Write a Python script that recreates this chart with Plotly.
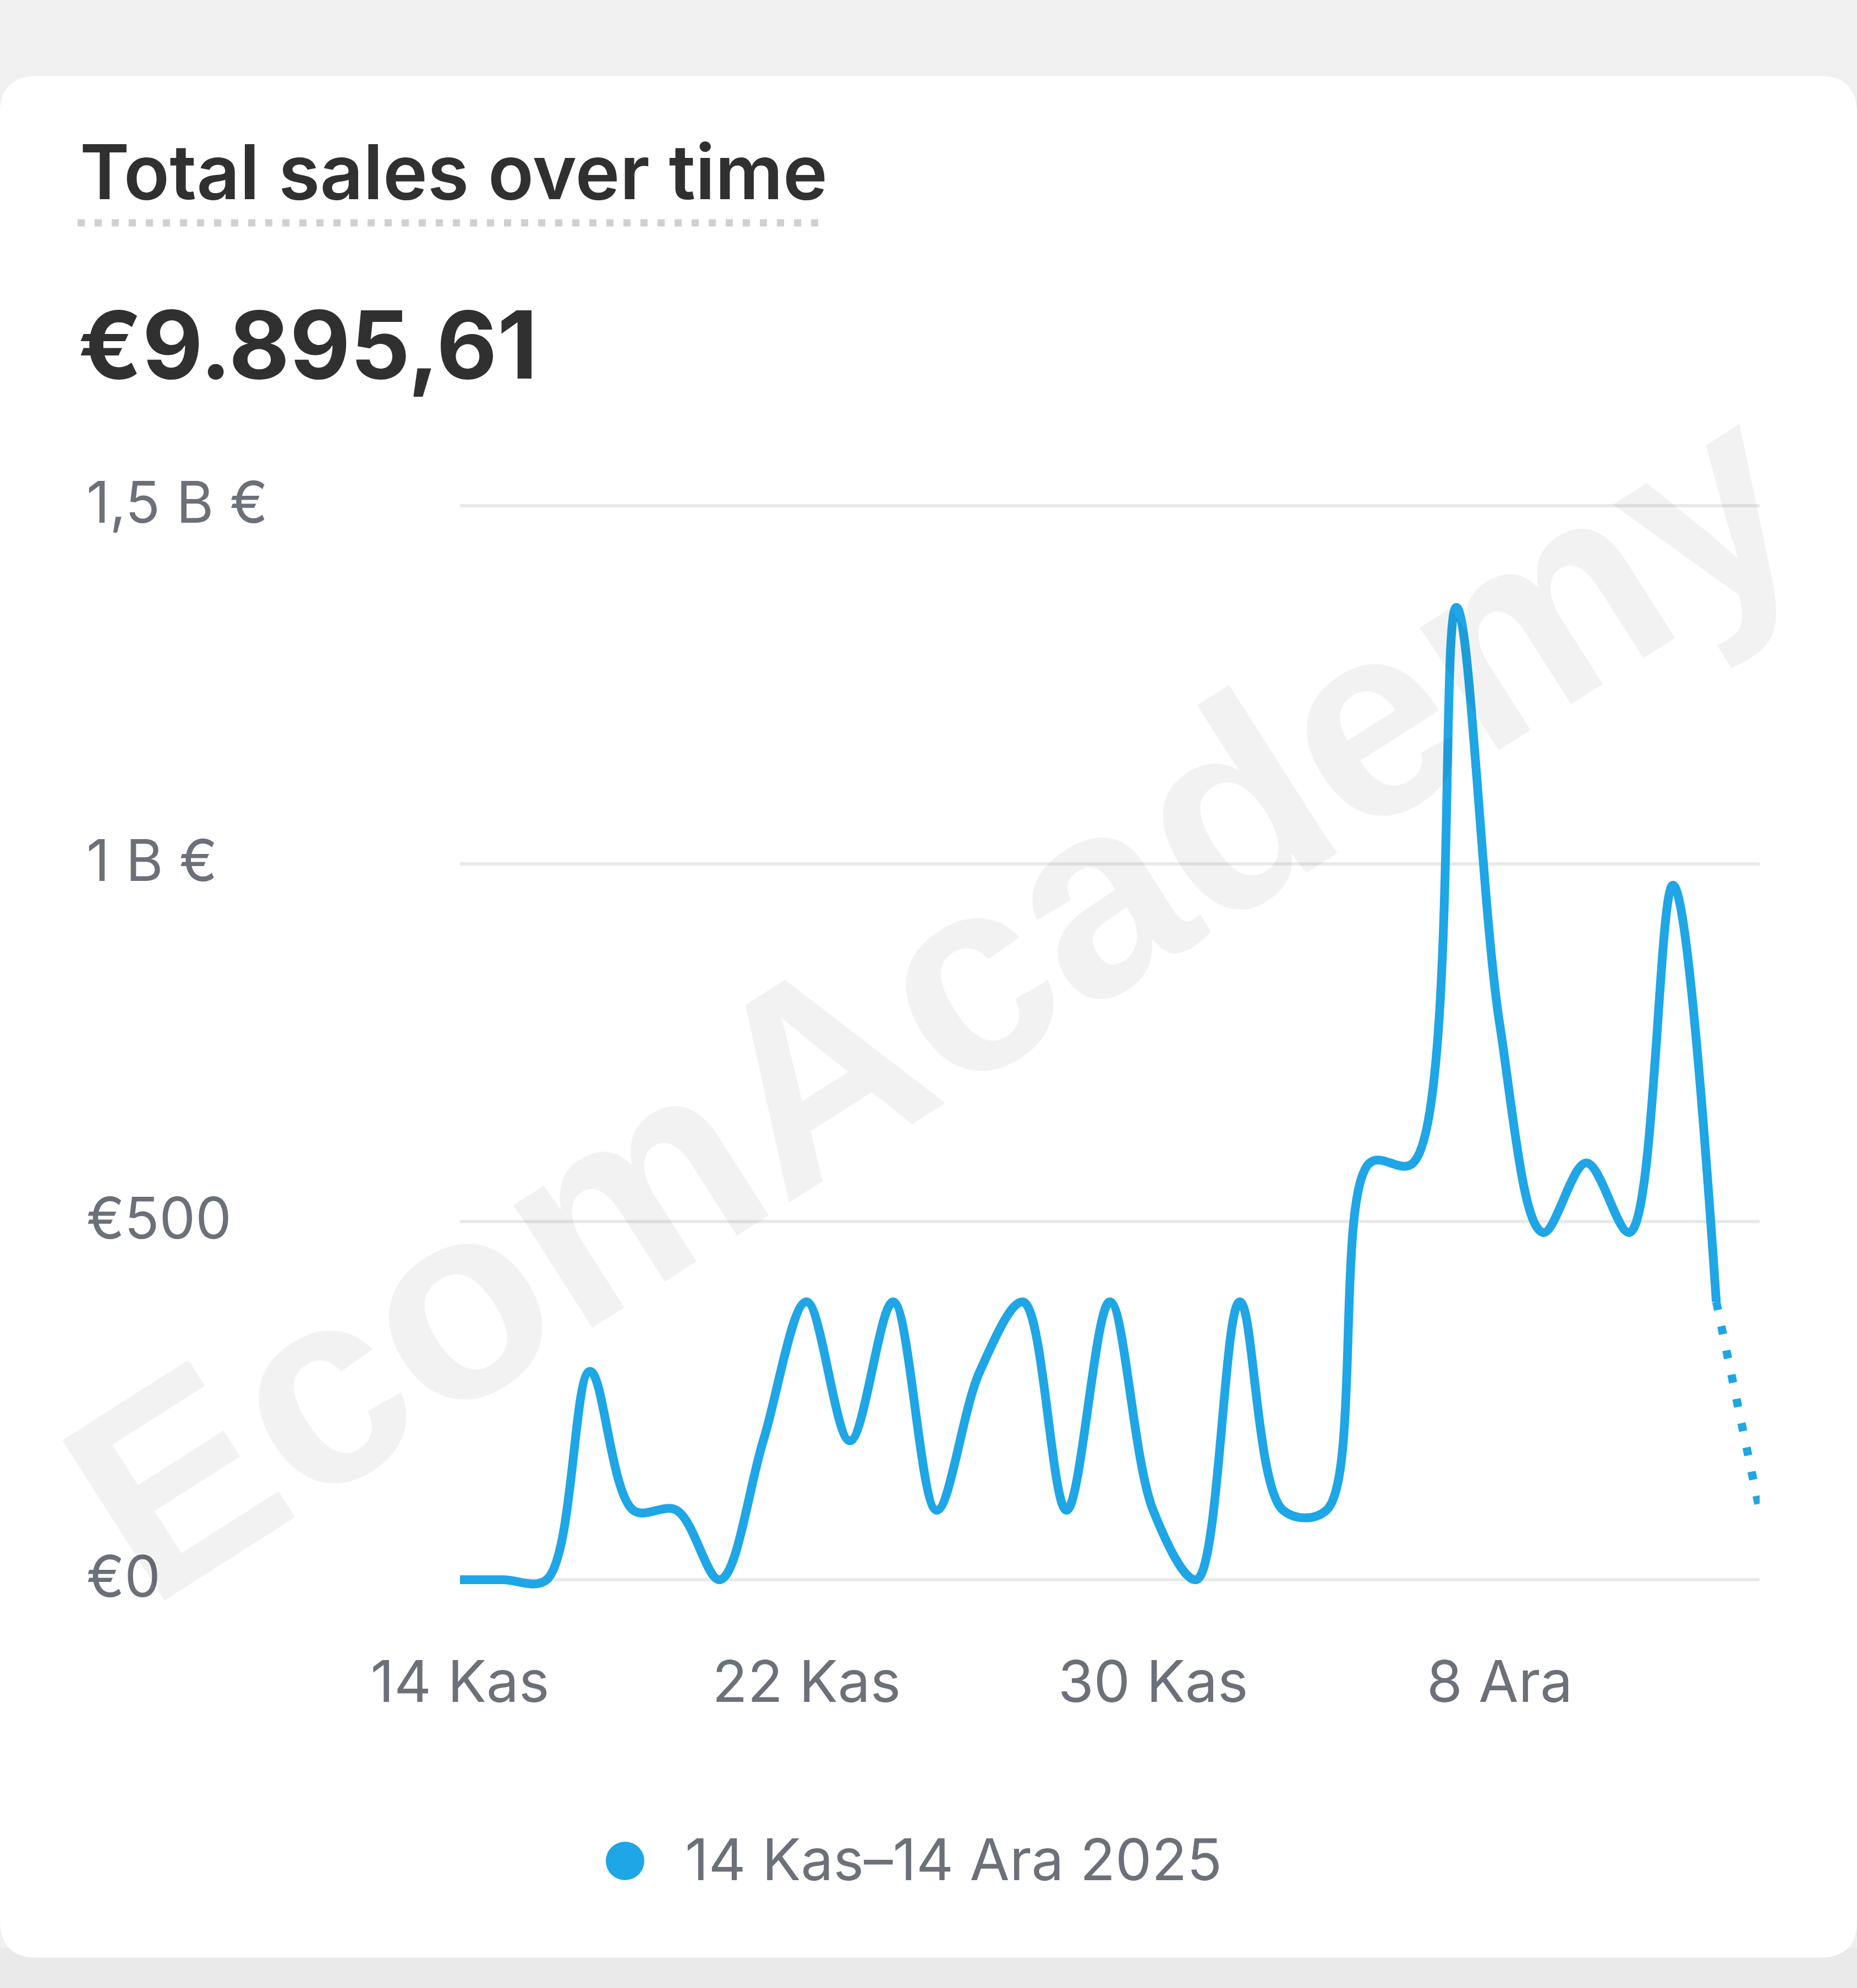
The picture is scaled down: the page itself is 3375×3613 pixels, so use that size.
import plotly.graph_objects as go
import pandas as pd

W, H = 3375, 3613

# ---- data ----
dates = [d.strftime("%Y-%m-%d") for d in pd.date_range("2025-11-14", "2025-12-14", freq="D")]
sales = [0, 0, 0, 291, 97, 97, 0, 194, 388, 194, 388, 97, 291, 388, 97, 388, 97, 0,
         388, 97, 97, 582, 582, 1358, 776, 485, 582, 485, 970, 388, 97]
x_tickvals = ["2025-11-14", "2025-11-22", "2025-11-30", "2025-12-08"]
x_ticktext = ["14 Kas", "22 Kas", "30 Kas", "8 Ara"]
y_tickvals = [0, 500, 1000, 1500]
y_ticktext = ["€0", "€500", "1 B €", "1,5 B €"]
title_text = "Total sales over time"
total_text = "€9.895,61"
legend_text = "14 Kas–14 Ara 2025"
watermark = "EcomAcademy"

BLUE = "#1ea6e6"
GREY_TXT = "#6b7079"
DARK = "#303030"


def px(x):
    return x / W


def py(y):
    return 1 - y / H


fig = go.Figure()

fig.add_trace(go.Scatter(
    x=dates[:-1], y=sales[:-1], mode="lines",
    line=dict(color=BLUE, width=16, shape="spline", smoothing=1.0),
    showlegend=False, hoverinfo="skip", cliponaxis=False,
))
fig.add_trace(go.Scatter(
    x=dates[-2:], y=sales[-2:], mode="lines",
    line=dict(color=BLUE, width=15, dash="15px,30px"),
    showlegend=False, hoverinfo="skip", cliponaxis=False,
))

# card shape
l, r, t, b = px(0), px(3375), py(138), py(3558)
rx, ry = 68 / W, 68 / H
card_path = (f"M {l+rx},{t} L {r-rx},{t} Q {r},{t} {r},{t-ry} L {r},{b+ry} "
             f"Q {r},{b} {r-rx},{b} L {l+rx},{b} Q {l},{b} {l},{b+ry} "
             f"L {l},{t-ry} Q {l},{t} {l+rx},{t} Z")

shapes = [
    dict(type="rect", xref="paper", yref="paper", x0=0, x1=1, y0=0, y1=py(3540),
         fillcolor="#eaeaea", line=dict(width=0), layer="below"),
    dict(type="path", xref="paper", yref="paper", path=card_path,
         fillcolor="#ffffff", line=dict(width=0), layer="below"),
    dict(type="line", xref="paper", yref="paper", x0=px(141), x1=px(1497),
         y0=py(405), y1=py(405), line=dict(color="#d0d0d0", width=13, dash="13px,18px")),
    dict(type="circle", xref="paper", yref="paper", x0=px(1101), x1=px(1171),
         y0=py(3417), y1=py(3347), fillcolor=BLUE, line=dict(width=0)),
]

annotations = [
    dict(text=title_text, xref="paper", yref="paper", x=px(143), y=py(312),
         xanchor="left", yanchor="middle", showarrow=False,
         font=dict(family="Inter", size=137, color=DARK, weight=600)),
    dict(text=total_text, xref="paper", yref="paper", x=px(140), y=py(626),
         xanchor="left", yanchor="middle", showarrow=False,
         font=dict(family="Inter", size=170, color=DARK, weight=700)),
    dict(text=legend_text, xref="paper", yref="paper", x=px(1243), y=py(3378),
         xanchor="left", yanchor="middle", showarrow=False,
         font=dict(family="Inter", size=105, color=GREY_TXT)),
]
for v, txt in zip(y_tickvals, y_ticktext):
    annotations.append(dict(text=txt, xref="paper", yref="y", x=px(155), y=v,
                            xanchor="left", yanchor="middle", yshift=7, showarrow=False,
                            font=dict(family="Inter", size=104, color=GREY_TXT)))
annotations.append(dict(text=f"<b>{watermark}</b>", xref="paper", yref="paper",
                        x=px(1697), y=py(1814), xanchor="center", yanchor="middle",
                        textangle=-32.5, showarrow=False,
                        font=dict(family="Liberation Sans", size=502, color="rgba(0,0,0,0.05)")))

fig.update_layout(
    template="none",
    width=W, height=H,
    margin=dict(l=0, r=0, t=0, b=0, pad=0, autoexpand=False),
    paper_bgcolor="#f0f0f0",
    plot_bgcolor="rgba(0,0,0,0)",
    shapes=shapes,
    annotations=annotations,
    showlegend=False,
    xaxis=dict(
        domain=[px(836), px(3198)],
        type="date",
        range=[dates[0], dates[-1]],
        tickvals=x_tickvals, ticktext=x_ticktext,
        showgrid=False, zeroline=False, showline=False, ticks="",
        automargin=False,
        ticklabelstandoff=90,
        tickfont=dict(family="Inter", size=105, color=GREY_TXT),
    ),
    yaxis=dict(
        domain=[py(2897), py(893)],
        range=[-20, 1520],
        tickvals=y_tickvals, showticklabels=False,
        showgrid=True, gridcolor="#e9e9e9", gridwidth=6,
        zeroline=False, showline=False, ticks="",
        automargin=False,
    ),
)

fig.write_html("out.html")
